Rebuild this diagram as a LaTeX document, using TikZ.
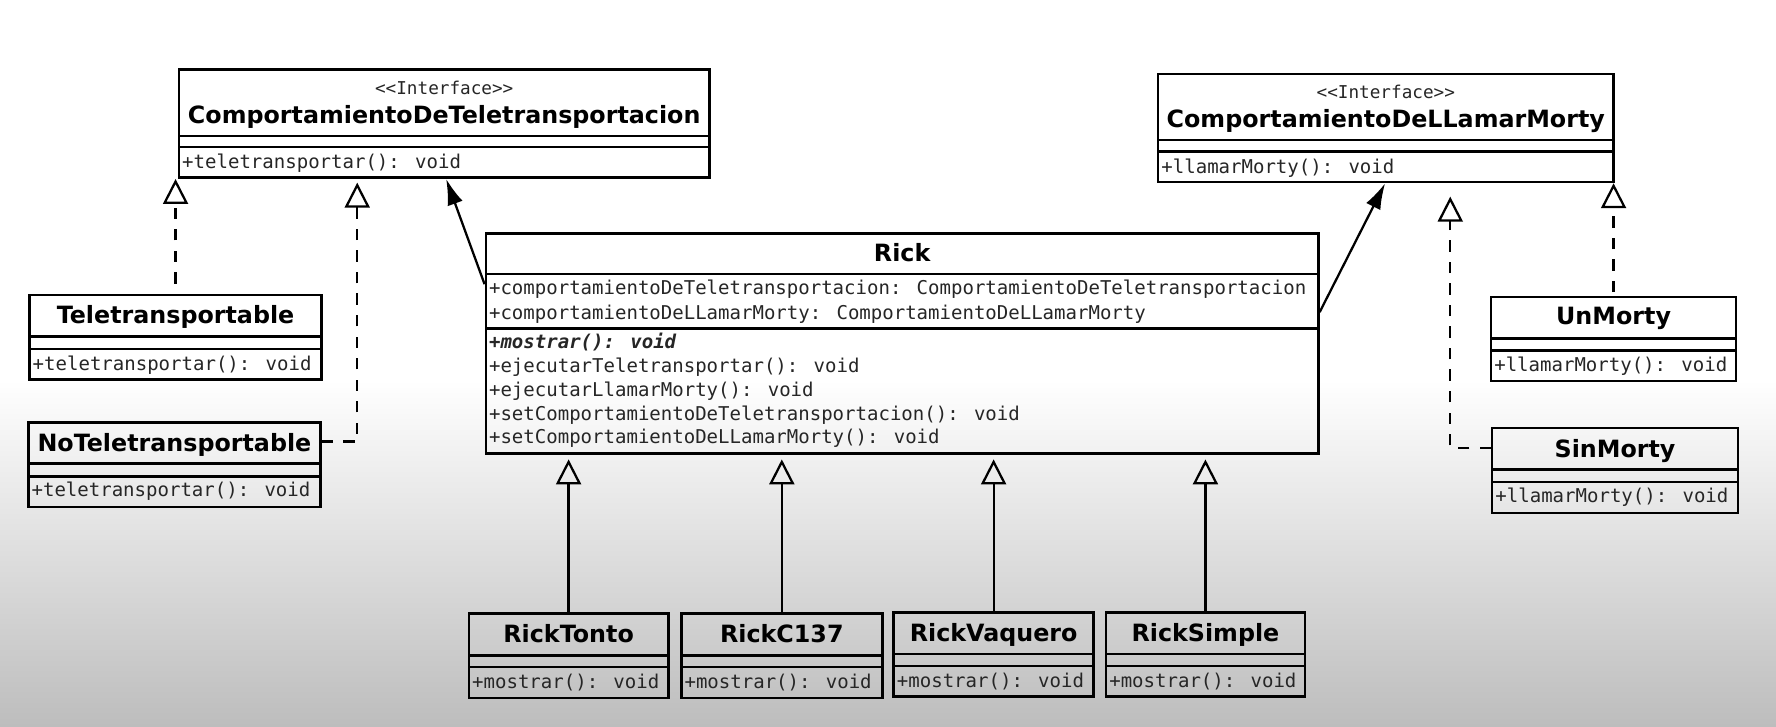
\documentclass[tikz,border=0pt]{standalone}
\usepackage{fontspec}
\setmainfont{DejaVu Sans}
\newfontfamily\umlmono{DejaVu Sans Mono}
\usetikzlibrary{arrows.meta,fit}
\definecolor{bggray}{RGB}{189,189,189}
\tikzset{
  box/.style={draw, line width=1.1pt, inner sep=0pt},
  cname/.style={font=\fontsize{10.5}{12}\selectfont\bfseries, anchor=base, inner sep=0pt},
  mtxt/.style={font=\umlmono\fontsize{8.4}{10}\selectfont, text=black!85, anchor=base west, inner sep=0pt},
  stereo/.style={font=\umlmono\fontsize{7.8}{9}\selectfont, text=black!85, anchor=base, inner sep=0pt},
  realize/.style={line width=1pt, dash pattern=on 5pt off 4.5pt, -{Triangle[open, length=11pt, width=11pt, line width=1pt]}},
  inherit/.style={line width=1pt, -{Triangle[open, length=11pt, width=11pt, line width=1pt]}},
  assoc/.style={line width=1pt, -{Latex[length=11.5pt, width=7pt]}},
}
\newcommand\umlclass[7]{%
  \node[box, fit={(#2,#3)(#4,#5)}] (#1) {};
  \draw[line width=1.1pt] (#2,#6) -- (#4,#6) (#2,#7) -- (#4,#7);
}
\begin{document}
\begin{tikzpicture}[x=0.5pt, y=-0.5pt]
\useasboundingbox (0,0) rectangle (1568,641);
\fill[white] (0,0) rectangle (1568,336);
\shade[top color=white, bottom color=bggray] (0,335) rectangle (1568,641);

% Interfaces
\umlclass{cdt}{158}{61.2}{626.4}{156.9}{120}{130}
\node[stereo] (cdtS) at (392.2,83.3) {<<Interface>>};
\node[cname] (cdtN) at (392.2,108.9) {ComportamientoDeTeletransportacion};
\node[mtxt] (cdtM) at (160.5,148.5) {+teletransportar(): void};

\umlclass{cdllm}{1022.5}{65.3}{1424.4}{160.7}{123.6}{133.9}
\node[stereo] (cdllmS) at (1223.5,86.8) {<<Interface>>};
\node[cname] (cdllmN) at (1223.5,112.7) {ComportamientoDeLLamarMorty};
\node[mtxt] (cdllmM) at (1025,153) {+llamarMorty(): void};

% Rick
\umlclass{rick}{428.9}{206}{1164}{400.5}{241.9}{289.9}
\node[cname] (rickN) at (796.5,231) {Rick};
\node[mtxt] (rickA1) at (431.4,260.4) {+comportamientoDeTeletransportacion: ComportamientoDeTeletransportacion};
\node[mtxt] (rickA2) at (431.4,281.9) {+comportamientoDeLLamarMorty: ComportamientoDeLLamarMorty};
\node[mtxt] (rickM1) at (431.4,307.5) {\bfseries\itshape +mostrar(): void};
\node[mtxt] (rickM2) at (431.4,328.7) {+ejecutarTeletransportar(): void};
\node[mtxt] (rickM3) at (431.4,349.9) {+ejecutarLlamarMorty(): void};
\node[mtxt] (rickM4) at (431.4,371.1) {+setComportamientoDeTeletransportacion(): void};
\node[mtxt] (rickM5) at (431.4,392) {+setComportamientoDeLLamarMorty(): void};

% Teleport implementations
\umlclass{tele}{26}{260.4}{284}{335.2}{297.2}{308.1}
\node[cname] (teleN) at (155,285.4) {Teletransportable};
\node[mtxt] (teleM) at (28.5,326.8) {+teletransportar(): void};

\umlclass{notele}{25}{372.9}{283}{447.6}{409.3}{420.5}
\node[cname] (noteleN) at (154,398.5) {NoTeletransportable};
\node[mtxt] (noteleM) at (27.5,438.5) {+teletransportar(): void};

% Morty implementations
\umlclass{unmorty}{1316.4}{262}{1532.8}{336.6}{298.7}{309.6}
\node[cname] (unmortyN) at (1424.6,286.9) {UnMorty};
\node[mtxt] (unmortyM) at (1318.9,328) {+llamarMorty(): void};

\umlclass{sinmorty}{1317.4}{377.9}{1534.4}{452.9}{414.7}{425.5}
\node[cname] (sinmortyN) at (1425.9,404.3) {SinMorty};
\node[mtxt] (sinmortyM) at (1319.9,444) {+llamarMorty(): void};

% Rick subclasses
\umlclass{ricktonto}{414}{541.8}{590}{616.3}{578.6}{588.9}
\node[cname] (ricktontoN) at (502,567.1) {RickTonto};
\node[mtxt] (ricktontoM) at (416.5,608) {+mostrar(): void};

\umlclass{rickc}{601.5}{541.8}{779}{616.3}{578.6}{588.9}
\node[cname] (rickcN) at (690.25,567.1) {RickC137};
\node[mtxt] (rickcM) at (604,608) {+mostrar(): void};

\umlclass{rickv}{789}{540.7}{965.5}{614.8}{577.4}{587.8}
\node[cname] (rickvN) at (877.25,566) {RickVaquero};
\node[mtxt] (rickvM) at (791.5,606.8) {+mostrar(): void};

\umlclass{ricks}{976.5}{540.7}{1152}{614.8}{577.4}{587.8}
\node[cname] (ricksN) at (1064.25,566) {RickSimple};
\node[mtxt] (ricksM) at (979,606.8) {+mostrar(): void};

% free connector ends
\coordinate (ntTip) at (315.4,161.3);
\coordinate (smTip) at (1280.4,173.6);

% realizations
\draw[realize, shorten <=4.5pt] (tele.north) -- (tele.north |- cdt.south);
\draw[realize] ([yshift=-9pt]notele.north east) -| (ntTip);
\draw[realize, shorten <=1.5pt] (unmorty.north) -- (unmorty.north |- cdllm.south);
\draw[realize] ([yshift=-9.25pt]sinmorty.north west) -| (smTip);

% associations
\draw[assoc] ([yshift=-23pt]rick.north west) -- ([xshift=118.5pt]cdt.south west);
\draw[assoc] ([yshift=-35.35pt]rick.north east) -- ([xshift=100.75pt]cdllm.south west);

% generalizations
\draw[inherit, shorten >=2pt] (ricktonto.north) -- (ricktonto.north |- rick.south);
\draw[inherit, shorten >=2pt] (rickc.north) -- (rickc.north |- rick.south);
\draw[inherit, shorten >=2pt] (rickv.north) -- (rickv.north |- rick.south);
\draw[inherit, shorten >=2pt] (ricks.north) -- (ricks.north |- rick.south);
\end{tikzpicture}
\end{document}
